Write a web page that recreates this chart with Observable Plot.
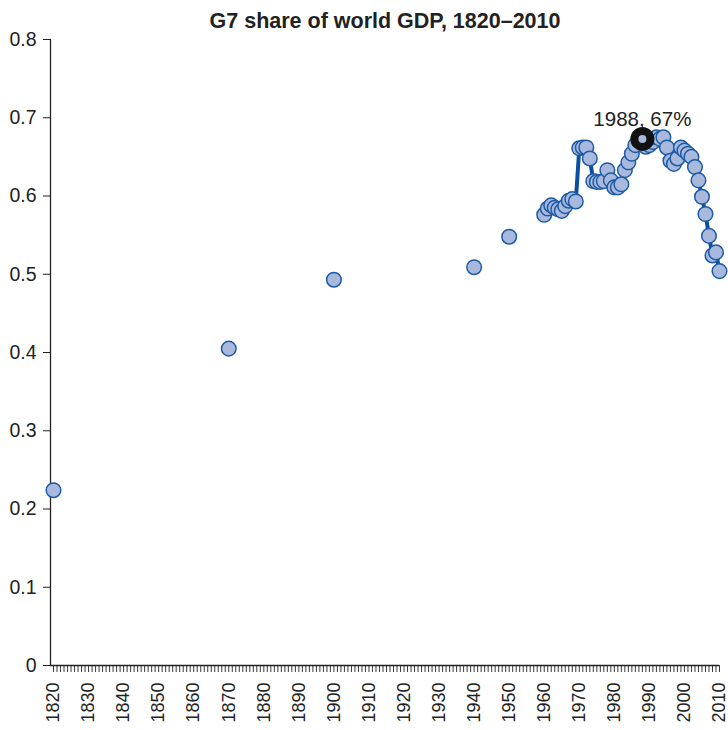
<!DOCTYPE html>
<html>
<head>
<meta charset="utf-8">
<script src="https://cdn.jsdelivr.net/npm/d3@7"></script>
<script src="https://cdn.jsdelivr.net/npm/@observablehq/plot@0.6"></script>
<style>
  html, body { margin: 0; padding: 0; background: #fff; }
</style>
</head>
<body>
<div id="chart"></div>
<script>
const title = "G7 share of world GDP, 1820\u20132010";

// Sparse benchmark years
const sparseYears = [1820, 1870, 1900, 1940, 1950];
const sparseValues = [0.224, 0.405, 0.493, 0.509, 0.548];

// Annual series 1960–2010
const annualYears = [
  1960,1961,1962,1963,1964,1965,1966,1967,1968,1969,
  1970,1971,1972,1973,1974,1975,1976,1977,1978,1979,
  1980,1981,1982,1983,1984,1985,1986,1987,1988,1989,
  1990,1991,1992,1993,1994,1995,1996,1997,1998,1999,
  2000,2001,2002,2003,2004,2005,2006,2007,2008,2009,2010
];
const annualValues = [
  0.576,0.584,0.588,0.585,0.583,0.581,0.587,0.594,0.596,0.593,
  0.661,0.662,0.662,0.648,0.619,0.618,0.618,0.619,0.633,0.620,
  0.611,0.611,0.615,0.633,0.643,0.654,0.665,0.671,0.673,0.663,
  0.665,0.669,0.675,0.673,0.675,0.662,0.645,0.641,0.648,0.662,
  0.658,0.654,0.650,0.637,0.620,0.599,0.577,0.549,0.524,0.528,0.504
];

const highlightYear = 1988;
const highlightValue = 0.673;
const highlightLabel = "1988, 67%";

const yTicks = [0, 0.1, 0.2, 0.3, 0.4, 0.5, 0.6, 0.7, 0.8];
const yTickLabels = ["0", "0.1", "0.2", "0.3", "0.4", "0.5", "0.6", "0.7", "0.8"];
const allYears = d3.range(1820, 2011);
const decadeYears = d3.range(1820, 2011, 10);

const sparse = sparseYears.map((x, i) => ({x, y: sparseValues[i]}));
const annual = annualYears.map((x, i) => ({x, y: annualValues[i]}));
const points = sparse.concat(annual);

const dotFill = "#a9b9dd";
const dotStroke = "#1c5aa6";
const lineStroke = "#0b4f9f";

const chart = Plot.plot({
  width: 728,
  height: 730,
  marginLeft: 50,
  marginRight: 9,
  marginTop: 39,
  marginBottom: 65,
  insetLeft: 3,
  style: {fontFamily: "'Liberation Sans', Arial, Helvetica, sans-serif", color: "#222", background: "#fff"},
  x: {type: "linear", domain: [1820, 2010], axis: null},
  y: {domain: [0, 0.8], axis: null},
  marks: [
    // title
    Plot.text([title], {frameAnchor: "top", dy: -12, lineAnchor: "bottom", fontSize: 21.5, fontWeight: "bold", fill: "#222"}),
    // y axis
    Plot.axisY(yTicks, {tickSize: 7, tickPadding: 7, fontSize: 19.5, tickFormat: d => yTickLabels[yTicks.indexOf(d)], label: null, stroke: "#222"}),
    Plot.ruleX([1820], {y1: 0, y2: 0.8, dx: -3, stroke: "#222", strokeWidth: 1.3}),
    // x axis
    Plot.axisX(allYears, {tickSize: 7, tickFormat: () => "", label: null, stroke: "#222", strokeWidth: 0.9}),
    Plot.ruleY([0], {stroke: "#222", strokeWidth: 1.3}),
    Plot.text(decadeYears, {x: d => d, y: 0, dy: 17, text: d => String(d), rotate: -90, textAnchor: "end", lineAnchor: "middle", fontSize: 18, fill: "#222"}),
    // line through annual series
    Plot.line(annual, {x: "x", y: "y", stroke: lineStroke, strokeWidth: 4}),
    // dots
    Plot.dot(points, {x: "x", y: "y", r: 7.3, fill: dotFill, stroke: dotStroke, strokeWidth: 1.5}),
    // highlight
    Plot.dot([{x: highlightYear, y: highlightValue}], {x: "x", y: "y", r: 8, fill: dotFill, stroke: "#111", strokeWidth: 8}),
    Plot.text([{x: highlightYear, y: highlightValue, t: highlightLabel}], {x: "x", y: "y", text: "t", dy: -13, lineAnchor: "bottom", fontSize: 20.5, fill: "#222"})
  ]
});

document.getElementById("chart").appendChild(chart);
</script>
</body>
</html>
